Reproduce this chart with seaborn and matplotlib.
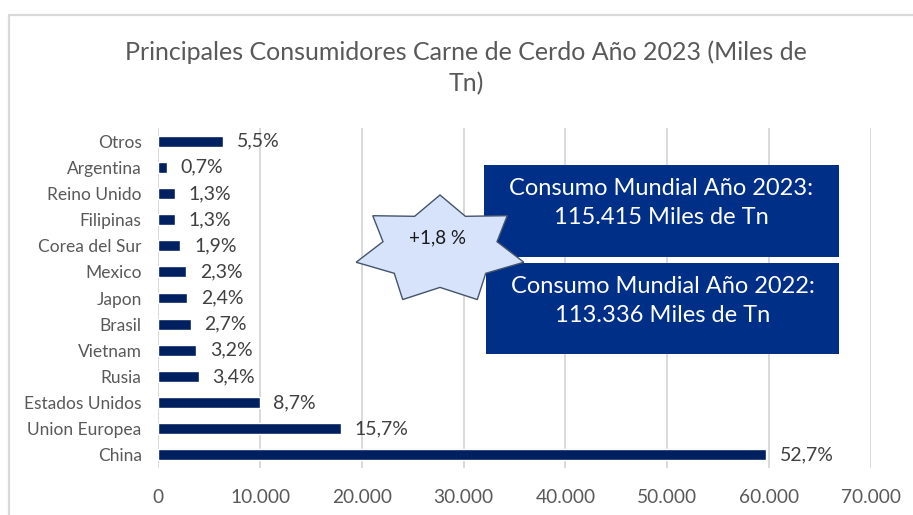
import matplotlib
matplotlib.use("Agg")
import matplotlib.pyplot as plt
import matplotlib.patches as mpatches
from matplotlib.lines import Line2D
from matplotlib.ticker import FuncFormatter
import numpy as np
import pandas as pd
import seaborn as sns

# datos (miles de Tn)
paises = ["Otros", "Argentina", "Reino Unido", "Filipinas", "Corea del Sur", "Mexico",
          "Japon", "Brasil", "Vietnam", "Rusia", "Estados Unidos", "Union Europea", "China"]
consumo = [6340, 815, 1630, 1630, 2150, 2710, 2840, 3170, 3720, 3950, 9940, 17930, 59750]
porcentaje = ["5,5%", "0,7%", "1,3%", "1,3%", "1,9%", "2,3%", "2,4%", "2,7%", "3,2%",
              "3,4%", "8,7%", "15,7%", "52,7%"]
ticks_x = [0, 10000, 20000, 30000, 40000, 50000, 60000, 70000]

titulo = "Principales Consumidores Carne de Cerdo Año 2023 (Miles de\nTn)"
caja_2023 = "Consumo Mundial Año 2023:\n115.415 Miles de Tn"
caja_2022 = "Consumo Mundial Año 2022:\n113.336 Miles de Tn"
variacion = "+1,8 %"

sns.set_theme(style="white")
plt.rcParams["font.family"] = ["Lato", "DejaVu Sans"]

W, H = 913, 515
fig = plt.figure(figsize=(W / 100, H / 100), dpi=100)


def px(x, y):
    # pixel de la imagen -> fraccion de figura
    return x / W, 1 - y / H


ax = fig.add_axes([158.4 / W, 1 - 468 / H, 712.2 / W, 340 / H])

df = pd.DataFrame({"pais": paises, "consumo": consumo})
sns.barplot(data=df, x="consumo", y="pais", color="#002060", saturation=1,
            width=0.42, ax=ax)

ax.bar_label(ax.containers[0], labels=porcentaje, padding=10, fontsize=14,
             color="#404040")

ax.set_xlim(0, 70000)
ax.set_xticks(ticks_x)
ax.xaxis.set_major_formatter(FuncFormatter(lambda v, p: f"{int(v):,}".replace(",", ".")))
ax.grid(axis="x", color="#d9d9d9", linewidth=1.4)
ax.grid(axis="y", visible=False)
ax.set_axisbelow(True)
for s in ax.spines.values():
    s.set_visible(False)
ax.tick_params(axis="x", length=0, pad=15, labelsize=13.8, labelcolor="#595959")
ax.tick_params(axis="y", length=0, pad=12, labelsize=12.5, labelcolor="#595959")
ax.set_xlabel("")
ax.set_ylabel("")

# borde del area del grafico
fig.add_artist(Line2D([9 / W, 9 / W], [0, 1 - 15 / H], transform=fig.transFigure,
                      color="#d9d9d9", linewidth=1.6))
fig.add_artist(Line2D([9 / W, 1], [1 - 15 / H, 1 - 15 / H], transform=fig.transFigure,
                      color="#d9d9d9", linewidth=1.6))

# titulo
fig.text(*px(466, 68), titulo, ha="center", va="center", fontsize=18,
         color="#595959", linespacing=1.4)

# cajas de consumo mundial
for (x0, y0, x1, y1), txt in [((484, 165, 839, 257), caja_2023),
                              ((486, 263, 839, 354), caja_2022)]:
    fig.add_artist(mpatches.Rectangle(px(x0, y1), (x1 - x0) / W, (y1 - y0) / H,
                                      transform=fig.transFigure, facecolor="#002f87",
                                      edgecolor="none", zorder=3))
    fig.text(*px((x0 + x1) / 2, y0 + 38), txt, ha="center", va="center", fontsize=17,
             color="white", linespacing=1.5, zorder=4)

# estrella de 7 puntas
cx, cy, rx, ry, ri = 440, 250, 86, 55, 0.68
ang = np.arange(14) * np.pi / 7
rad = np.where(np.arange(14) % 2 == 0, 1.0, ri)
pts = [px(cx + rx * r * np.sin(a), cy - ry * r * np.cos(a)) for a, r in zip(ang, rad)]
fig.add_artist(mpatches.Polygon(pts, closed=True, transform=fig.transFigure,
                                facecolor="#d6e3fb", edgecolor="#44546a",
                                linewidth=1.0, zorder=5))
fig.text(*px(437, 238), variacion, ha="center", va="center", fontsize=13.5,
         color="#1a1a1a", zorder=6)

fig.savefig("out.png", dpi=100)
